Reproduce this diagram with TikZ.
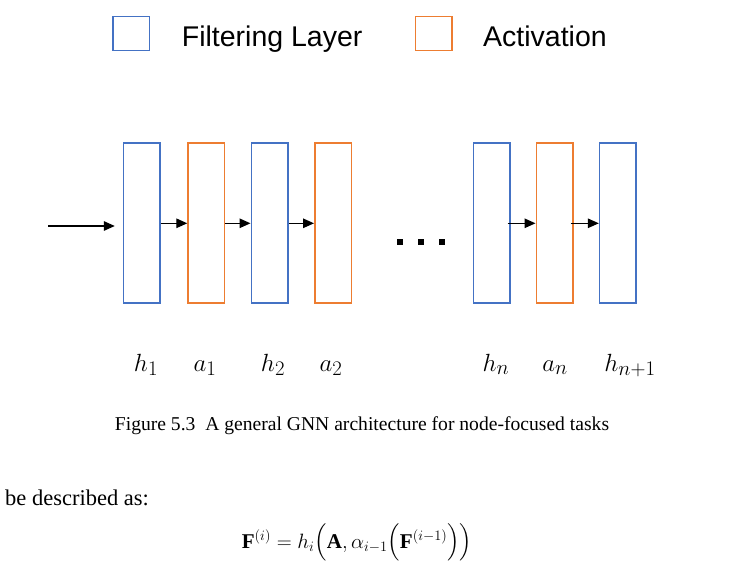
\documentclass[tikz,border=0pt]{standalone}
\usepackage{amsmath}
\usepackage{exscale}
\usepackage{fontspec}
\setmainfont{Liberation Serif}
\newfontfamily\legfont{Liberation Sans}
\usetikzlibrary{arrows.meta}
\definecolor{filtblue}{HTML}{4472C4}
\definecolor{actorange}{HTML}{ED7D31}
\begin{document}
\begin{tikzpicture}[x=1pt,y=-1pt,
  layerbox/.style={draw, line width=1.5pt, line join=miter, line cap=rect, inner sep=0pt, minimum width=36.5pt, minimum height=160pt},
  filt/.style={layerbox, draw=filtblue},
  act/.style={layerbox, draw=actorange},
  legbox/.style={draw, line width=1.5pt, line join=miter, line cap=rect, inner sep=0pt, minimum width=36.5pt, minimum height=34pt},
  legtext/.style={anchor=base west, inner sep=0pt, font=\legfont\fontsize{28.5}{32}\selectfont},
  lbl/.style={anchor=base, inner sep=0pt, font=\fontsize{30}{34}\selectfont},
  conn/.style={line width=1.3pt, -{Triangle[length=11pt,width=9.5pt]}},
  dotsq/.style={fill=black, inner sep=0pt, minimum size=6pt}
]
\useasboundingbox (0,0) rectangle (736,564);
% legend
\node[legbox, draw=filtblue] (legf) at (131,33.4) {};
\node[legtext] (legft) at (181.7,46.7) {Filtering Layer};
\node[legbox, draw=actorange] (lega) at (433.5,33.4) {};
\node[legtext] (legat) at (483,46.7) {Activation};
% layers
\node[filt] (b1) at (141.8,222.8) {};
\node[act]  (b2) at (206.3,222.8) {};
\node[filt] (b3) at (269.5,222.8) {};
\node[act]  (b4) at (333,222.8) {};
\node[filt] (b5) at (491.5,222.8) {};
\node[act]  (b6) at (554.5,222.8) {};
\node[filt] (b7) at (617.8,222.8) {};
% dots
\node[dotsq] (d1) at (399.7,242) {};
\node[dotsq] (d2) at (420.7,242) {};
\node[dotsq] (d3) at (442.3,242) {};
% input arrow
\coordinate (inp) at (48,226);
\draw[conn, shorten >=8pt] (inp) -- (inp -| b1.west);
% connectors
\draw[conn] ([yshift=-0.5pt]b1.east) -- ([yshift=-0.5pt]b2.west);
\draw[conn] ([yshift=-0.5pt]b2.east) -- ([yshift=-0.5pt]b3.west);
\draw[conn] ([yshift=-0.5pt]b3.east) -- ([yshift=-0.5pt]b4.west);
\draw[conn] ([xshift=-3pt,yshift=-0.5pt]b5.east) -- ([yshift=-0.5pt]b6.west);
\draw[conn] ([xshift=-3pt,yshift=-0.5pt]b6.east) -- ([yshift=-0.5pt]b7.west);
% labels
\node[lbl] (l1) at (146,371) {$h_1$};
\node[lbl] (l2) at (205,371) {$a_1$};
\node[lbl] (l3) at (273,371) {$h_2$};
\node[lbl] (l4) at (331,371) {$a_2$};
\node[lbl] (l5) at (496,371) {$h_n$};
\node[lbl] (l6) at (555,371) {$a_n$};
\node[lbl] (l7) at (630,371) {$h_{n+1}$};
% caption and text
\node[anchor=base, inner sep=0pt, font=\fontsize{19.6}{24}\selectfont] (cap) at (362,430) {Figure 5.3\ \ A general GNN architecture for node-focused tasks};
\node[anchor=base west, inner sep=0pt, font=\fontsize{22.5}{26}\selectfont] (desc) at (5,505) {be described as:};
\node[anchor=base, inner sep=0pt, font=\fontsize{21}{26}\selectfont] (eq) at (357,548) {$\mathbf{F}^{(i)} = h_i\Bigl(\mathbf{A}, \alpha_{i-1}\Bigl(\mathbf{F}^{(i-1)}\Bigr)\Bigr)$};
\end{tikzpicture}
\end{document}
